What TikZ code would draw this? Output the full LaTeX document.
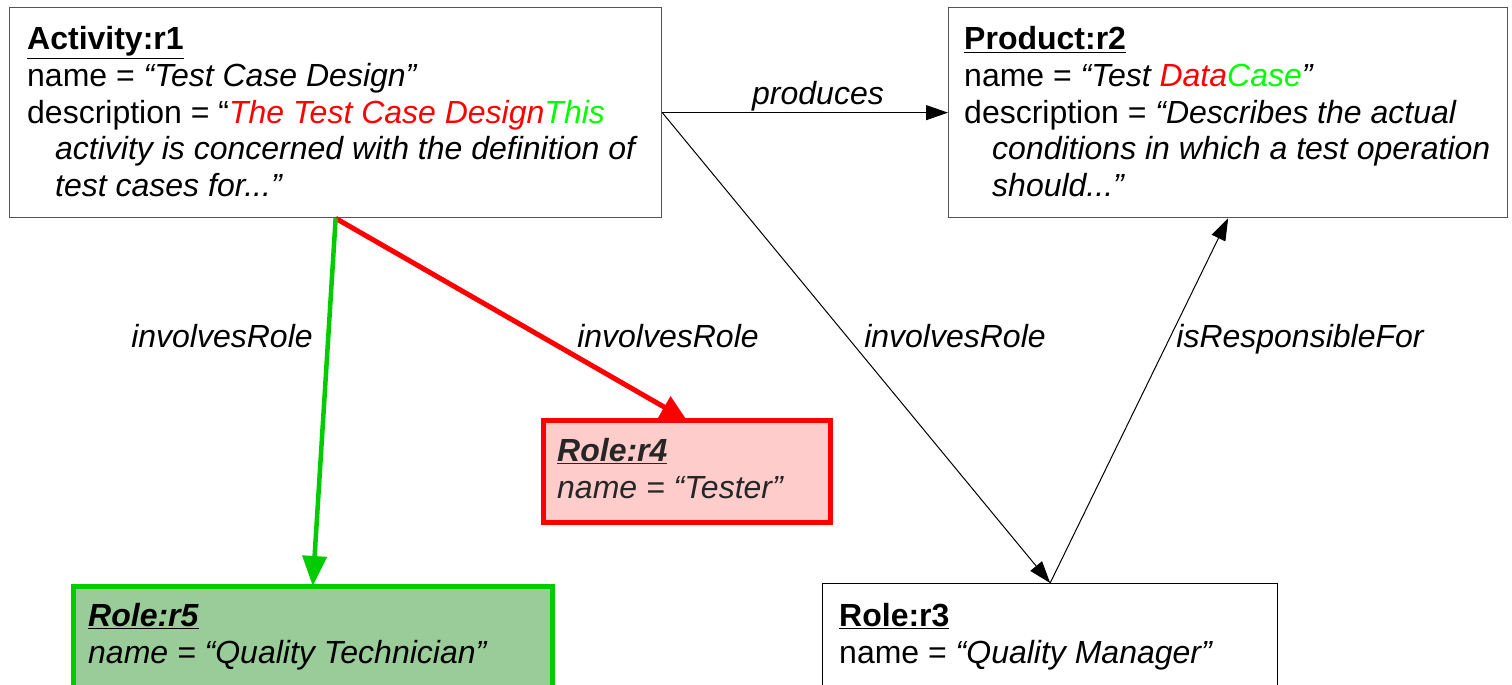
\documentclass[tikz,border=0pt]{standalone}
\usepackage{fontspec}
\setmainfont{Liberation Sans}
\usetikzlibrary{arrows.meta}
\definecolor{grn}{HTML}{00FF00}
\definecolor{dgreen}{HTML}{00CC00}
\definecolor{pinkfill}{HTML}{FFCCCC}
\definecolor{greenfill}{HTML}{99CC99}
\definecolor{boxgray}{HTML}{555555}
\begin{document}
\begin{tikzpicture}[x=1pt,y=-1pt,
  txt/.style={anchor=base west,inner sep=0pt,font=\fontsize{32}{36.8}\selectfont},
  lbl/.style={anchor=base,inner sep=0pt,font=\fontsize{32}{36.8}\selectfont\itshape},
  plainbox/.style={draw=boxgray,line width=1.3pt,anchor=north west,inner sep=0pt,fill=white},
  blackbox/.style={draw=black,line width=1.3pt,anchor=north west,inner sep=0pt,fill=white},
  redbox/.style={draw=red,line width=4.5pt,fill=pinkfill,anchor=north west,inner sep=0pt},
  greenbox/.style={draw=dgreen,line width=4.5pt,fill=greenfill,anchor=north west,inner sep=0pt},
  thinarrow/.style={draw=black,line width=1pt,-{Triangle[length=22pt,width=15pt]}},
  redarrow/.style={draw=red,line width=5pt,-{Triangle[length=26pt,width=24pt]}},
  greenarrow/.style={draw=dgreen,line width=4.5pt,-{Triangle[length=30pt,width=24pt]}}
]
\useasboundingbox (0,0) rectangle (1512,685);
\clip (0,0) rectangle (1512,685);
\fill[white] (0,0) rectangle (1512,685);

% boxes
\node[plainbox,minimum width=652pt,minimum height=210pt] (a1) at (9,7) {};
\node[plainbox,minimum width=559pt,minimum height=210pt] (p2) at (948,7) {};
\node[redbox,minimum width=287pt,minimum height=102pt] (r4) at (541,418) {};
\node[greenbox,minimum width=479pt,minimum height=140pt] (r5) at (71,584) {};
\node[blackbox,minimum width=455pt,minimum height=140pt] (r3) at (822,583) {};

% Activity text
\node[txt] (a1l1) at (27,50) {\underline{\textbf{Activity:r1}}};
\node[txt] (a1l2) at (27,86.5) {name = \textit{“Test Case Design”}};
\node[txt] (a1l3) at (27,123) {description = “\textit{\textcolor{red}{The Test Case Design}\textcolor{grn}{This}}};
\node[txt] (a1l4) at (55,159.5) {\textit{activity is concerned with the definition of}};
\node[txt] (a1l5) at (55,196) {\textit{test cases for...”}};

% Product text
\node[txt] (p2l1) at (964,50) {\underline{\textbf{Product:r2}}};
\node[txt] (p2l2) at (964,86.5) {name = \textit{“Test \textcolor{red}{Data}\textcolor{grn}{Case}”}};
\node[txt] (p2l3) at (964,123) {description = \textit{“Describes the actual}};
\node[txt] (p2l4) at (992,159.5) {\textit{conditions in which a test operation}};
\node[txt] (p2l5) at (992,196) {\textit{should...”}};

% Role r4
\node[txt,text=black!85] (r4l1) at (557,461) {\underline{\textbf{\textit{Role:r4}}}};
\node[txt,text=black!85] (r4l2) at (557,498) {\textit{name = “Tester”}};

% Role r5
\node[txt] (r5l1) at (88,626) {\underline{\textbf{\textit{Role:r5}}}};
\node[txt] (r5l2) at (88,663) {\textit{name = “Quality Technician”}};

% Role r3
\node[txt] (r3l1) at (839,626) {\underline{\textbf{Role:r3}}};
\node[txt] (r3l2) at (839,663) {name = \textit{“Quality Manager”}};

% connectors
\draw[thinarrow] (a1.east) -- (p2.west);
\draw[thinarrow] (a1.east) -- (r3.north);
\draw[thinarrow] (r3.north) -- (p2.south);
\draw[redarrow] (a1.south) -- ([yshift=-2pt]r4.north);
\draw[greenarrow] (a1.south) -- ([yshift=-2pt]r5.north);

% labels
\node[lbl] (lprod) at (818,104) {produces};
\node[lbl] (lg) at (222,347) {involvesRole};
\node[lbl] (lr) at (668,347) {involvesRole};
\node[lbl] (lb) at (955,347) {involvesRole};
\node[lbl] (lresp) at (1300,347) {isResponsibleFor};
\end{tikzpicture}
\end{document}
